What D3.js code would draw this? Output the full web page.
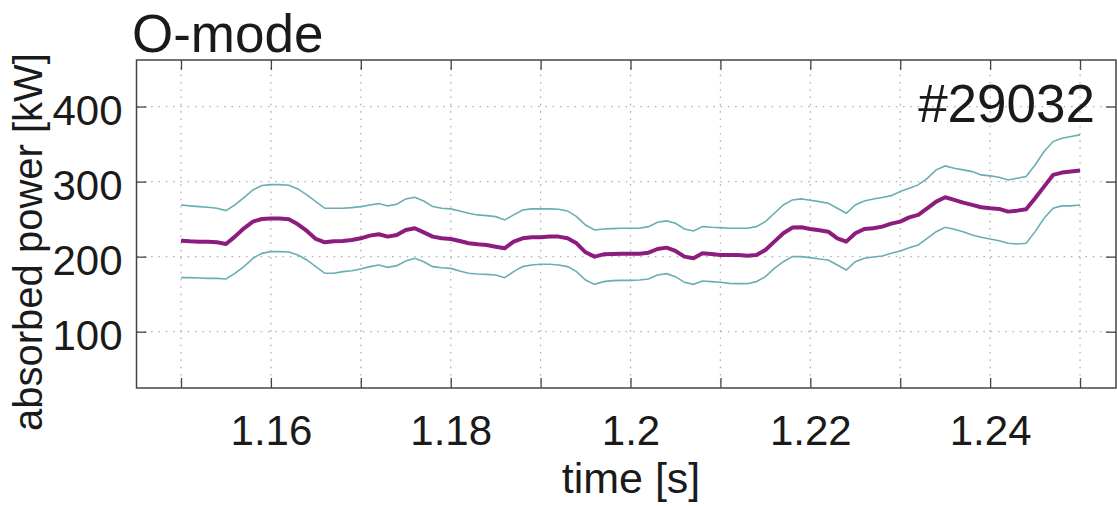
<!DOCTYPE html>
<html lang="en">
<head>
<meta charset="UTF-8">
<title>O-mode absorbed power</title>
<script src="https://d3js.org/d3.v7.min.js"></script>
<style>
  body { margin: 0; background: #fff; }
  text { font-family: "Liberation Sans", Arial, sans-serif; fill: #1a1a1a; }
</style>
</head>
<body>
<div id="chart"></div>
<script>
// time samples every 1 ms from 1.150 to 1.250 s
var time = d3.range(0, 101).map(function(i) { return +(1.15 + i * 0.001).toFixed(3); });

// absorbed power [kW], middle trace
var power = [
  221.3, 220.4, 220, 220, 219.1, 216.9, 226.7, 237.8, 246.7, 250.2, 250.7, 250.7, 249.8, 243.1, 234.2, 223.6, 219.1, 220.4, 220.9, 222.2, 224.4,
  228, 229.8, 226.7, 228.9, 235.6, 237.8, 232.4, 226.7, 224.4, 223.6, 220.9, 217.8, 216.4, 215.6, 213.3, 211.1, 220, 224.4, 225.8, 225.8,
  226.7, 226.7, 224.4, 217.8, 205.8, 200, 203.1, 203.6, 204, 204, 204, 205.3, 210.2, 212, 207.6, 200, 197.8, 204.4, 203.6, 202.2,
  202.2, 202.2, 201.3, 202.2, 208.9, 220, 231.1, 238.7, 239.1, 236.9, 235.1, 233.3, 224.4, 220, 231.1, 236.9, 237.8, 240, 244, 246.7,
  252.4, 255.6, 264.4, 273.3, 279.1, 275.6, 272, 268.9, 265.8, 264.4, 263.6, 260, 261.3, 263.1, 277.8, 293.3, 308.9, 312, 313.3, 314.7
];

// upper error bound [kW]
var powerUpper = [
  268.9, 267.6, 266.7, 265.8, 264.4, 261.3, 268.9, 278.7, 288.9, 294.7, 296, 296, 295.1, 290.2, 282.2, 273.3, 264.4, 264.4, 264.4, 265.3, 266.7,
  268.9, 270.7, 267.6, 269.8, 276.9, 279.1, 274.2, 266.7, 264.4, 263.6, 260.9, 257.8, 255.6, 254.7, 253.3, 248.9, 255.6, 262.2, 263.6, 263.6,
  263.6, 263.1, 260.9, 253.3, 242.2, 235.6, 236.9, 237.3, 237.8, 237.8, 237.8, 240, 245.8, 247.6, 244.4, 236.9, 234.2, 240, 239.1, 238.7,
  237.8, 237.8, 237.8, 240, 246.7, 257.8, 268.9, 275.6, 276.9, 275.1, 273.3, 271.1, 264.4, 257.8, 268.9, 274.2, 276.9, 278.7, 281.3, 286.7,
  291.1, 295.6, 304.4, 315.6, 320.9, 317.8, 315.6, 313.3, 308.9, 307.6, 305.8, 302.2, 304.4, 306.7, 322.2, 340, 353.3, 357.8, 360, 362.2
];

// lower error bound [kW]
var powerLower = [
  172, 172, 171.6, 171.1, 171.1, 170.2, 177.8, 186.7, 197.8, 204.4, 206.7, 206.7, 206.2, 202.2, 195.6, 186.7, 177.8, 177.8, 180, 181.3, 183.6,
  186.7, 188.9, 185.8, 188, 194.2, 197.8, 193.3, 186.7, 185.3, 184.4, 180.9, 177.8, 176.9, 176.4, 175.6, 172, 180, 186.7, 188.9, 189.8,
  189.8, 188.9, 186.7, 180, 168.9, 163.1, 166.7, 168, 168.4, 168.4, 168.9, 170.2, 175.6, 177.3, 173.3, 165.8, 163.1, 167.6, 166.7, 165.8,
  164.4, 164, 164, 166.7, 173.3, 184.4, 193.3, 200, 200, 198.7, 196.9, 195.6, 188.9, 182.2, 193.3, 197.8, 199.6, 200.9, 204.4, 207.6,
  212, 215.6, 224.4, 233.3, 239.1, 236.4, 233.3, 228.9, 225.8, 223.6, 221.3, 217.8, 216.9, 217.8, 233.3, 251.1, 264.4, 267.6, 267.6, 268.9
];

var xTicks = [1.15, 1.16, 1.17, 1.18, 1.19, 1.2, 1.21, 1.22, 1.23, 1.24, 1.25];
var xTickLabels = ["", "1.16", "", "1.18", "", "1.2", "", "1.22", "", "1.24", ""];
var yTicks = [100, 200, 300, 400];

var W = 1117, H = 506;
var box = {left: 136.5, right: 1116, top: 60, bottom: 388};

var svg = d3.select("#chart").append("svg")
    .attr("width", W)
    .attr("height", H);

var x = d3.scaleLinear().domain([1.14505, 1.254]).range([box.left, box.right]);
var y = d3.scaleLinear().domain([25, 462]).range([box.bottom, box.top]);

// dotted grid
var grid = svg.append("g")
    .attr("stroke", "#b4b4b4")
    .attr("stroke-width", 1.3)
    .attr("stroke-dasharray", "1.6,5.7");
grid.selectAll(".vg").data(xTicks).join("line")
    .attr("x1", function(d) { return x(d); }).attr("x2", function(d) { return x(d); })
    .attr("y1", box.top).attr("y2", box.bottom);
grid.selectAll(".hg").data(yTicks).join("line")
    .attr("x1", box.left).attr("x2", box.right)
    .attr("y1", function(d) { return y(d); }).attr("y2", function(d) { return y(d); });

// traces
var line = d3.line()
    .x(function(d, i) { return x(time[i]); })
    .y(function(d) { return y(d); });

svg.append("path").datum(powerUpper)
    .attr("fill", "none").attr("stroke", "#68aeb3").attr("stroke-width", 1.6)
    .attr("d", line);
svg.append("path").datum(powerLower)
    .attr("fill", "none").attr("stroke", "#68aeb3").attr("stroke-width", 1.6)
    .attr("d", line);
svg.append("path").datum(power)
    .attr("fill", "none").attr("stroke", "#8c1c7e").attr("stroke-width", 4)
    .attr("stroke-linejoin", "round")
    .attr("d", line);

// axes (inward ticks on all sides)
var bottomAxis = d3.axisBottom(x).tickValues(xTicks).tickSize(-10).tickPadding(27)
    .tickFormat(function(d, i) { return xTickLabels[i]; });
var gx = svg.append("g").attr("transform", "translate(0," + box.bottom + ")").call(bottomAxis);

var topAxis = d3.axisTop(x).tickValues(xTicks).tickSize(-10).tickFormat("");
var gt = svg.append("g").attr("transform", "translate(0," + box.top + ")").call(topAxis);

var leftAxis = d3.axisLeft(y).tickValues(yTicks).tickSize(-10).tickPadding(14);
var gy = svg.append("g").attr("transform", "translate(" + box.left + ",0)").call(leftAxis);

var rightAxis = d3.axisRight(y).tickValues(yTicks).tickSize(-10).tickFormat("");
var gr = svg.append("g").attr("transform", "translate(" + box.right + ",0)").call(rightAxis);

[gx, gt, gy, gr].forEach(function(g) {
  g.select(".domain").remove();
  g.selectAll(".tick line").attr("stroke", "#444").attr("stroke-width", 1.3);
  g.selectAll(".tick text")
    .style("font-family", "'Liberation Sans', Arial, sans-serif")
    .style("font-size", "42px")
    .attr("fill", "#1a1a1a");
});
gy.selectAll(".tick text").attr("dy", "0.43em");

// frame
svg.append("rect")
    .attr("x", box.left).attr("y", box.top)
    .attr("width", box.right - box.left).attr("height", box.bottom - box.top)
    .attr("fill", "none").attr("stroke", "#444").attr("stroke-width", 1.5);

// texts
svg.append("text").attr("x", 132).attr("y", 52)
    .style("font-size", "53px").text("O-mode");

svg.append("text").attr("x", 1095).attr("y", 122)
    .attr("text-anchor", "end")
    .style("font-size", "53px").text("#29032");

svg.append("text")
    .attr("transform", "translate(42,242) rotate(-90)")
    .attr("text-anchor", "middle")
    .style("font-size", "40px").text("absorbed power [kW]");

svg.append("text").attr("x", 631).attr("y", 493)
    .attr("text-anchor", "middle")
    .style("font-size", "43px").text("time [s]");
</script>
</body>
</html>
